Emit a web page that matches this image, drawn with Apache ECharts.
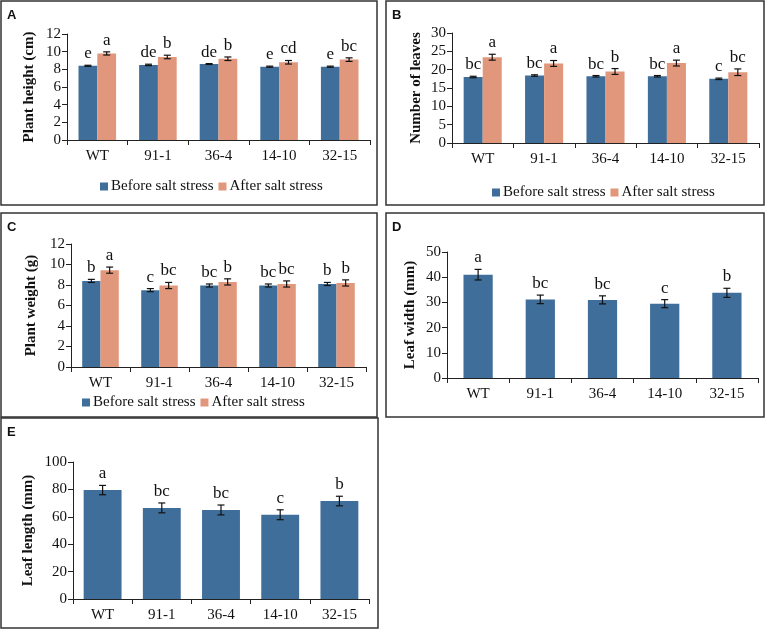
<!DOCTYPE html>
<html>
<head>
<meta charset="utf-8">
<script src="https://cdn.jsdelivr.net/npm/echarts@6/dist/echarts.min.js"></script>
<style>
  html, body { margin: 0; padding: 0; background: #fff; }
  #chart { width: 767px; height: 631px; }
</style>
</head>
<body>
<div id="chart"></div>
<script>
// categories shared by all panels
const categories = ['WT', '91-1', '36-4', '14-10', '32-15'];

// A - plant height (cm)
const heightBefore = [8.4, 8.5, 8.6, 8.3, 8.3];
const heightBeforeErr = [0.06, 0.08, 0.05, 0.06, 0.06];
const heightAfter = [9.8, 9.4, 9.2, 8.8, 9.1];
const heightAfterErr = [0.18, 0.2, 0.2, 0.2, 0.2];
const heightBeforeLetters = ['e', 'de', 'de', 'e', 'e'];
const heightAfterLetters = ['a', 'b', 'b', 'cd', 'bc'];

// B - number of leaves
const leavesBefore = [18.0, 18.4, 18.2, 18.2, 17.5];
const leavesBeforeErr = [0.2, 0.2, 0.2, 0.2, 0.2];
const leavesAfter = [23.4, 21.7, 19.5, 21.8, 19.3];
const leavesAfterErr = [0.8, 0.8, 0.8, 0.8, 0.9];
const leavesBeforeLetters = ['bc', 'bc', 'bc', 'bc', 'c'];
const leavesAfterLetters = ['a', 'a', 'b', 'a', 'bc'];

// C - plant weight (g)
const weightBefore = [8.4, 7.5, 7.95, 7.95, 8.1];
const weightBeforeErr = [0.15, 0.15, 0.15, 0.15, 0.15];
const weightAfter = [9.45, 7.95, 8.3, 8.1, 8.2];
const weightAfterErr = [0.3, 0.3, 0.3, 0.3, 0.3];
const weightBeforeLetters = ['b', 'c', 'bc', 'bc', 'b'];
const weightAfterLetters = ['a', 'bc', 'b', 'bc', 'b'];

// D - leaf width (mm)
const leafWidth = [41, 31.2, 31, 29.5, 33.8];
const leafWidthErr = [2.1, 1.7, 1.6, 1.6, 1.8];
const leafWidthLetters = ['a', 'bc', 'bc', 'c', 'b'];

// E - leaf length (mm)
const leafLength = [79.5, 66.5, 65, 61.5, 71.5];
const leafLengthErr = [3.4, 3.6, 3.6, 3.6, 3.5];
const leafLengthLetters = ['a', 'bc', 'bc', 'c', 'b'];

const BLUE = '#3e6e99';
const ORANGE = '#e1977c';
const SERIF = '"Liberation Serif", "Times New Roman", serif';
const SANS = '"Liberation Sans", Arial, sans-serif';

const chart = echarts.init(document.getElementById('chart'));

const grids = [
  { left: 67, top: 34, width: 303, height: 106 },
  { left: 452, top: 33, width: 307, height: 110 },
  { left: 71, top: 244, width: 295, height: 123 },
  { left: 447, top: 252, width: 311, height: 126 },
  { left: 73, top: 462, width: 296, height: 137 }
];
const yMax = [12, 30, 12, 50, 100];
const yStep = [2, 5, 2, 10, 20];
const yNames = ['Plant height (cm)', 'Number of leaves', 'Plant weight (g)', 'Leaf width (mm)', 'Leaf length (mm)'];
const nameGaps = [30, 28, 32, 29, 37];

const xAxes = grids.map((g, i) => ({
  type: 'category',
  gridIndex: i,
  data: categories,
  axisLine: { lineStyle: { color: '#222', width: 1 } },
  axisTick: { show: true, length: 5, lineStyle: { color: '#222' } },
  axisLabel: { color: '#111', fontFamily: SERIF, fontSize: 15, margin: 9 }
}));

const yAxes = grids.map((g, i) => ({
  type: 'value',
  gridIndex: i,
  min: 0,
  max: yMax[i],
  interval: yStep[i],
  name: yNames[i],
  nameLocation: 'middle',
  nameRotate: 90,
  nameGap: nameGaps[i],
  nameTextStyle: { fontFamily: SERIF, fontWeight: 'bold', fontSize: 15, color: '#111' },
  splitLine: { show: false },
  axisLine: { show: true, lineStyle: { color: '#222', width: 1 } },
  axisTick: { show: true, length: 5, lineStyle: { color: '#222' } },
  axisLabel: { color: '#111', fontFamily: SERIF, fontSize: 15, margin: 6 }
}));

function barSeries(name, gi, values, color, gap) {
  return {
    name: name,
    type: 'bar',
    xAxisIndex: gi,
    yAxisIndex: gi,
    data: values,
    barGap: '0%',
    barCategoryGap: gap,
    itemStyle: { color: color },
    silent: true
  };
}

// error bars + significance letters, offset is a fraction of the band width
function errSeries(gi, values, errs, letters, offset) {
  return {
    type: 'custom',
    xAxisIndex: gi,
    yAxisIndex: gi,
    z: 5,
    silent: true,
    data: values.map((v, k) => [k, v, errs[k]]),
    renderItem: function (params, api) {
      const k = api.value(0);
      const v = api.value(1);
      const e = api.value(2);
      const band = api.size([1, 0])[0];
      const top = api.coord([k, v + e]);
      const bot = api.coord([k, v - e]);
      const cx = top[0] + offset * band;
      const cap = 3.5;
      const ls = { stroke: '#111', lineWidth: 1.2 };
      return {
        type: 'group',
        children: [
          { type: 'line', shape: { x1: cx, y1: top[1], x2: cx, y2: bot[1] }, style: ls },
          { type: 'line', shape: { x1: cx - cap, y1: top[1], x2: cx + cap, y2: top[1] }, style: ls },
          { type: 'line', shape: { x1: cx - cap, y1: bot[1], x2: cx + cap, y2: bot[1] }, style: ls },
          {
            type: 'text',
            style: {
              x: cx, y: top[1] - 3,
              text: letters[params.dataIndex],
              align: 'center', verticalAlign: 'bottom',
              font: '17px ' + SERIF, fill: '#111'
            }
          }
        ]
      };
    }
  };
}

const B = 'Before salt stress';
const A = 'After salt stress';
const gap2 = 0.38;
const off = (1 - gap2) / 4;

const series = [
  barSeries(B, 0, heightBefore, BLUE, '38%'),
  barSeries(A, 0, heightAfter, ORANGE, '38%'),
  errSeries(0, heightBefore, heightBeforeErr, heightBeforeLetters, -off),
  errSeries(0, heightAfter, heightAfterErr, heightAfterLetters, off),

  barSeries(B, 1, leavesBefore, BLUE, '38%'),
  barSeries(A, 1, leavesAfter, ORANGE, '38%'),
  errSeries(1, leavesBefore, leavesBeforeErr, leavesBeforeLetters, -off),
  errSeries(1, leavesAfter, leavesAfterErr, leavesAfterLetters, off),

  barSeries(B, 2, weightBefore, BLUE, '38%'),
  barSeries(A, 2, weightAfter, ORANGE, '38%'),
  errSeries(2, weightBefore, weightBeforeErr, weightBeforeLetters, -off),
  errSeries(2, weightAfter, weightAfterErr, weightAfterLetters, off),

  barSeries('Leaf width', 3, leafWidth, BLUE, '53%'),
  errSeries(3, leafWidth, leafWidthErr, leafWidthLetters, 0),

  barSeries('Leaf length', 4, leafLength, BLUE, '36%'),
  errSeries(4, leafLength, leafLengthErr, leafLengthLetters, 0)
];

function legendAt(left, top) {
  return {
    data: [B, A],
    left: left,
    top: top,
    padding: 0,
    icon: 'rect',
    itemWidth: 8,
    itemHeight: 8,
    itemGap: 5,
    selectedMode: false,
    textStyle: { fontFamily: SERIF, fontSize: 15, color: '#111', padding: [0, 0, 0, -2] }
  };
}

// panel frames and letters
const frames = [
  [1, 1, 376, 204, 'A'],
  [386, 1, 378, 204, 'B'],
  [1, 213, 376, 204, 'C'],
  [386, 213, 378, 204, 'D'],
  [1, 418, 377, 210, 'E']
];
const graphic = [];
frames.forEach(f => {
  graphic.push({
    type: 'rect', silent: true,
    shape: { x: f[0], y: f[1], width: f[2], height: f[3] },
    style: { fill: 'none', stroke: '#333', lineWidth: 1.5 }
  });
  graphic.push({
    type: 'text', silent: true,
    left: f[0] + 6, top: f[1] + 8,
    style: { text: f[4], font: 'bold 13px ' + SANS, fill: '#111' }
  });
});

chart.setOption({
  animation: false,
  grid: grids,
  xAxis: xAxes,
  yAxis: yAxes,
  legend: [legendAt(100, 179), legendAt(492, 185), legendAt(82, 395)],
  series: series,
  graphic: graphic
});
</script>
</body>
</html>
